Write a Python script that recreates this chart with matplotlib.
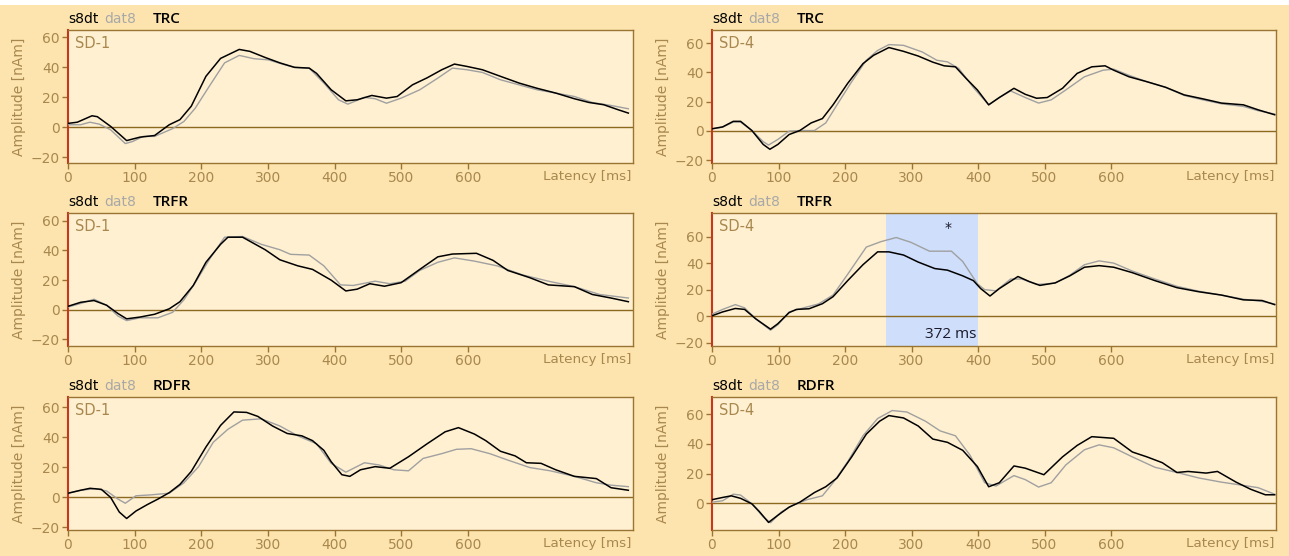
import numpy as np
import matplotlib
matplotlib.use("Agg")
import matplotlib.pyplot as plt
from matplotlib.patches import Rectangle

# ---- data (latency ms, amplitude nAm) ----
# TRC, SD-1
trc1_s8dt_t = [0, 14, 36, 44, 64, 88, 108, 130, 152, 168, 185, 207, 229, 257, 273, 296, 318, 340, 362, 373,
               395, 417, 434, 456, 478, 494, 517, 539, 561, 580, 599, 622, 649, 677, 704, 732, 760, 782, 804, 826, 841]
trc1_s8dt_v = [2.5, 3.3, 7.6, 7, 0.5, -9, -6.7, -5.6, 1.6, 5, 14, 34, 46, 52, 50.7, 46.6, 43, 40, 39.5, 36,
               25, 17.6, 18.3, 21.2, 19.4, 20.5, 28.3, 33, 38.4, 42.2, 40.6, 38.4, 34, 29.5, 26, 22.8, 19, 16.5, 15, 11.6, 9.4]
trc1_dat8_t = [0, 19, 33, 47, 64, 86, 97, 113, 130, 157, 174, 191, 213, 235, 257, 279, 301, 323, 340, 362,
               384, 406, 420, 445, 461, 478, 500, 528, 555, 577, 599, 622, 649, 677, 704, 732, 760, 787, 815, 841]
trc1_dat8_v = [1.6, 1.6, 3.3, 2, -1.8, -11, -9.6, -6.2, -6.2, -1, 3.8, 12.7, 28, 43, 48, 45.8, 45, 42, 40, 39.5,
               29.5, 18.3, 15.4, 19.9, 19, 16, 19.4, 25, 32.8, 39.5, 38.4, 36.6, 31.7, 28.3, 25, 22.8, 20.5, 16.5, 14.5, 12.3]

# TRC, SD-4
trc4_s8dt_t = [0, 16, 32, 43, 60, 77, 87, 99, 116, 132, 149, 166, 182, 204, 227, 243, 266, 288, 310, 332, 349, 366,
               382, 399, 416, 432, 454, 471, 488, 504, 527, 549, 571, 591, 604, 627, 654, 682, 710, 738, 766, 799, 821, 846]
trc4_s8dt_v = [1.4, 2.7, 6.5, 6.5, 0.2, -9.3, -12.6, -9.3, -2.5, 0.2, 5.4, 8.4, 17.8, 32.5, 46, 51.7, 57, 54.4, 51.2, 47, 44.5, 43.8,
               35.9, 28, 17.8, 22.8, 29.1, 25, 22.3, 22.8, 29.1, 39.3, 43.8, 44.5, 41.5, 37, 33.6, 29.8, 24.6, 21.9, 19, 17.8, 14.4, 11]
trc4_dat8_t = [0, 16, 32, 43, 60, 77, 85, 99, 116, 132, 154, 171, 188, 210, 232, 249, 266, 288, 316, 338, 354, 371,
               393, 416, 432, 449, 471, 491, 510, 532, 560, 588, 604, 627, 654, 682, 710, 738, 766, 799, 821, 846]
trc4_dat8_v = [1.4, 2.5, 6, 6, 0.2, -7.4, -9.7, -5.9, -0.2, 0.2, 0.2, 5.4, 17.8, 33.6, 48.3, 55, 59, 58.5, 54, 48.3, 47.2, 42.7,
               29.6, 17.8, 22.8, 27.3, 22.8, 19, 21.2, 28, 37, 41.5, 42.2, 38, 33.6, 29.8, 24.2, 21.2, 18.5, 16.7, 13.8, 11.5]

# TRFR, SD-1
trfr1_s8dt_t = [0, 19, 39, 58, 75, 88, 108, 130, 152, 168, 188, 207, 229, 240, 262, 296, 318, 345, 367,
                395, 417, 434, 453, 475, 500, 528, 555, 577, 613, 638, 660, 693, 721, 760, 787, 815, 841]
trfr1_s8dt_v = [2.2, 4.9, 6.1, 2.9, -2.7, -6.3, -5.1, -3.2, 0.5, 5.3, 16.3, 32, 44.2, 49, 49, 40.5, 33.7, 29.6, 27.2,
                19.9, 12.6, 13.8, 17.5, 15.8, 18.2, 27.2, 35.7, 37.6, 38.1, 33.3, 26.5, 21.6, 16.7, 15.5, 10.2, 7.8, 5.3]
trfr1_dat8_t = [0, 19, 39, 58, 75, 88, 108, 135, 157, 174, 191, 213, 235, 262, 290, 318, 334, 362,
                384, 409, 428, 461, 483, 506, 528, 555, 580, 610, 644, 682, 721, 760, 798, 841]
trfr1_dat8_v = [1.7, 4.1, 7, 2.9, -4.4, -7.5, -5.6, -5.6, -1.9, 6.6, 18.2, 34.5, 49, 49.5, 44.2, 40.5, 37.4, 36.9,
                29.6, 16.7, 16.3, 19.2, 17.5, 19.2, 26.5, 32, 35, 32.8, 29.6, 23.5, 19.2, 15.5, 10.2, 7.8]

# TRFR, SD-4
trfr4_s8dt_t = [0, 16, 35, 49, 66, 88, 99, 116, 127, 146, 166, 182, 204, 227, 249, 266, 288, 310, 335, 354, 377, 393,
                404, 418, 432, 460, 477, 493, 516, 538, 560, 582, 604, 632, 666, 699, 732, 766, 799, 827, 846]
trfr4_s8dt_v = [0.5, 3.4, 6, 5.3, -1.9, -9.6, -5.5, 2.9, 5.3, 5.8, 9.6, 14.9, 27, 39, 48.7, 48.7, 46.3, 41, 36.1, 34.9, 30.6, 27,
                21, 15.4, 21, 30.1, 26.3, 23.4, 25.3, 30.6, 37.1, 38.3, 37.1, 33, 27, 21.7, 18.6, 16.1, 12.5, 12, 8.9]
trfr4_dat8_t = [0, 16, 35, 49, 66, 88, 99, 116, 138, 160, 182, 204, 232, 254, 277, 299, 327, 360, 377, 399,
                410, 427, 449, 466, 488, 516, 538, 560, 582, 604, 632, 666, 699, 732, 766, 799, 827, 846]
trfr4_dat8_v = [1.7, 5.3, 8.9, 6.5, -1.9, -10.4, -6.3, 3.4, 6.5, 9.4, 16.1, 31.8, 52.3, 56.4, 59.5, 55.9, 49.2, 49.2, 41.4, 24.6,
                20.2, 19.3, 28.2, 28.2, 24.1, 25.1, 31.1, 39, 41.9, 40.2, 34.2, 28.2, 22.7, 19, 16.1, 13, 11.3, 9.4]

# RDFR, SD-1
rdfr1_s8dt_t = [0, 19, 33, 50, 64, 77, 88, 102, 119, 135, 152, 168, 185, 207, 229, 249, 268, 285, 307, 329, 351, 367,
                384, 395, 411, 423, 439, 461, 483, 511, 539, 566, 586, 610, 627, 649, 671, 688, 710, 732, 760, 793, 815, 841]
rdfr1_s8dt_v = [2.6, 4.6, 5.9, 5.2, -0.2, -10, -14.3, -9.3, -5, -1.3, 3, 8.5, 17.2, 33.5, 48, 57, 56.7, 54, 47.6, 42.6, 41, 37.8,
                31.3, 23.7, 15, 13.9, 18.3, 20.4, 19.3, 27, 35.7, 43.7, 46.5, 42.2, 37.8, 30.7, 27.6, 23, 22.6, 18.3, 13.9, 12.4, 6.3, 4.6]
rdfr1_dat8_t = [0, 19, 41, 58, 75, 86, 102, 124, 152, 174, 196, 218, 240, 262, 290, 318, 345, 373,
                395, 417, 445, 467, 489, 511, 533, 561, 583, 605, 633, 660, 693, 724, 760, 793, 815, 841]
rdfr1_dat8_v = [2.6, 4.6, 5.7, 4.1, -1.3, -4.1, 0.9, 1.5, 2.6, 9.6, 20.4, 36.7, 45.4, 51.5, 52.4, 47.6, 41, 35.7,
                22.6, 16.7, 23, 21.5, 18.3, 17.6, 25.9, 29.1, 32, 32.4, 29.1, 24.8, 19.8, 17.6, 13.9, 9.6, 8, 7]

# RDFR, SD-4
rdfr4_s8dt_t = [0, 16, 29, 43, 60, 71, 85, 99, 116, 132, 154, 171, 188, 210, 232, 252, 266, 288, 310, 332, 354, 377,
                399, 416, 432, 454, 471, 499, 527, 549, 571, 604, 632, 654, 677, 699, 716, 743, 760, 788, 810, 832, 846]
rdfr4_s8dt_v = [2.4, 3.9, 5, 3.3, -0.4, -5.5, -12.9, -8.1, -2.6, 0.7, 7.2, 11.1, 17, 31.2, 46.5, 55.2, 59, 57.4, 52, 43.2, 41, 35.6,
                24.7, 11.1, 13.8, 25.1, 23.6, 19.2, 31.2, 38.9, 44.8, 43.7, 34.5, 31.2, 27.3, 20.7, 21.4, 20.3, 21.4, 14.2, 9.4, 5.7, 5.7]
rdfr4_dat8_t = [0, 16, 32, 43, 60, 77, 88, 104, 121, 143, 166, 182, 204, 227, 249, 271, 293, 321, 343, 366,
                388, 410, 427, 454, 471, 491, 510, 532, 560, 582, 604, 632, 666, 699, 732, 766, 799, 821, 846]
rdfr4_dat8_v = [0.7, 1.7, 6.1, 5.5, -0.4, -9.2, -13.1, -5.9, -1.5, 2.4, 5, 13.8, 27.9, 45.4, 57, 62.4, 61.4, 55.2, 48.7, 45.4,
                32.3, 13.8, 11.6, 18.6, 15.9, 10.9, 13.8, 25.8, 36, 39.3, 37.3, 31.2, 24.2, 20.7, 17, 14.2, 12, 10.5, 6.1]

conditions = ["TRC", "TRFR", "RDFR"]
subjects = ["SD-1", "SD-4"]
x_ticks = [0, 100, 200, 300, 400, 500, 600]
sig_window = (262, 400)   # shaded window in TRFR / SD-4
sig_label = "372 ms"

panels = [
    [(trc1_s8dt_t, trc1_s8dt_v, trc1_dat8_t, trc1_dat8_v), (trc4_s8dt_t, trc4_s8dt_v, trc4_dat8_t, trc4_dat8_v)],
    [(trfr1_s8dt_t, trfr1_s8dt_v, trfr1_dat8_t, trfr1_dat8_v), (trfr4_s8dt_t, trfr4_s8dt_v, trfr4_dat8_t, trfr4_dat8_v)],
    [(rdfr1_s8dt_t, rdfr1_s8dt_v, rdfr1_dat8_t, rdfr1_dat8_v), (rdfr4_s8dt_t, rdfr4_s8dt_v, rdfr4_dat8_t, rdfr4_dat8_v)],
]
ylims = [[(-24, 65), (-22, 69)], [(-24.7, 65.4), (-22.3, 78)], [(-22, 67), (-18, 71.5)]]
yticks = [[[-20, 0, 20, 40, 60]] * 2, [[-20, 0, 20, 40, 60]] * 2, [[-20, 0, 20, 40, 60], [0, 20, 40, 60]]]

# ---- styling ----
bg_outer = "#FDE4AE"
bg_plot = "#FFF0D2"
brown = "#9A7432"
tan = "#A8884E"

W, H = 1289, 556
fig = plt.figure(figsize=(W / 100, H / 100), dpi=100, facecolor=bg_outer)
fig.patches.append(Rectangle((0, 1 - 5 / H), 1, 5 / H, transform=fig.transFigure,
                             facecolor="white", edgecolor="none", zorder=0))

col_x = [(68, 633), (712, 1276)]
row_y = [(30, 163), (213, 346), (397, 530)]

for r in range(3):
    for c in range(2):
        x0, x1 = col_x[c]
        y0, y1 = row_y[r]
        ax = fig.add_axes([x0 / W, 1 - y1 / H, (x1 - x0) / W, (y1 - y0) / H])
        ax.set_facecolor(bg_plot)
        s_t, s_v, d_t, d_v = panels[r][c]

        if r == 1 and c == 1:
            ax.axvspan(sig_window[0], sig_window[1], color="#CEDEFB", zorder=1, lw=0)
            ax.text(sig_window[1] - 2, -13.5, sig_label, ha="right", va="center",
                    fontsize=11, color="#1a1a2a", family="Open Sans", zorder=5)
            ax.text(355, 67, "*", ha="center", va="center", fontsize=10, color="#1a1a2a", zorder=5)

        ax.axhline(0, color="#8B6A20", lw=1.0, zorder=2)
        ax.plot(d_t, d_v, color="#A0A0A0", lw=1.0, zorder=3)
        ax.plot(s_t, s_v, color="black", lw=1.1, zorder=4)

        ax.set_xlim(0, 848)
        ax.set_ylim(*ylims[r][c])
        ax.set_xticks(x_ticks)
        ax.set_yticks(yticks[r][c])
        ax.tick_params(colors=brown, labelcolor=tan, labelsize=10, length=4, width=1, pad=2)
        for s in ax.spines.values():
            s.set_color(brown)
            s.set_linewidth(1.0)
        ax.spines["left"].set_color("#C8361C")
        ax.spines["left"].set_linewidth(1.5)

        ax.set_ylabel("Amplitude [nAm]", color=tan, fontsize=10)
        ax.yaxis.set_label_coords(-0.075, 0.5)
        ax.annotate("Latency [ms]", xy=(1, 0), xycoords="axes fraction", xytext=(-1, -5),
                    textcoords="offset points", ha="right", va="top", color=tan, fontsize=9.7)
        ax.annotate(subjects[c], xy=(0, 1), xycoords="axes fraction", xytext=(5, -4),
                    textcoords="offset points", ha="left", va="top", color=tan, fontsize=10.5)

        # header above each panel
        ax.annotate("s8dt", xy=(0, 1), xycoords="axes fraction", xytext=(0, 3),
                    textcoords="offset points", ha="left", va="bottom", color="black", fontsize=10)
        ax.annotate("dat8", xy=(0, 1), xycoords="axes fraction", xytext=(26, 3),
                    textcoords="offset points", ha="left", va="bottom", color="#A8A8A8", fontsize=10)
        ax.annotate(conditions[r], xy=(0, 1), xycoords="axes fraction", xytext=(61, 3),
                    textcoords="offset points", ha="left", va="bottom", color="black",
                    fontsize=11, family="Open Sans", fontweight="semibold")

fig.savefig("out.png", dpi=100, facecolor=bg_outer)
